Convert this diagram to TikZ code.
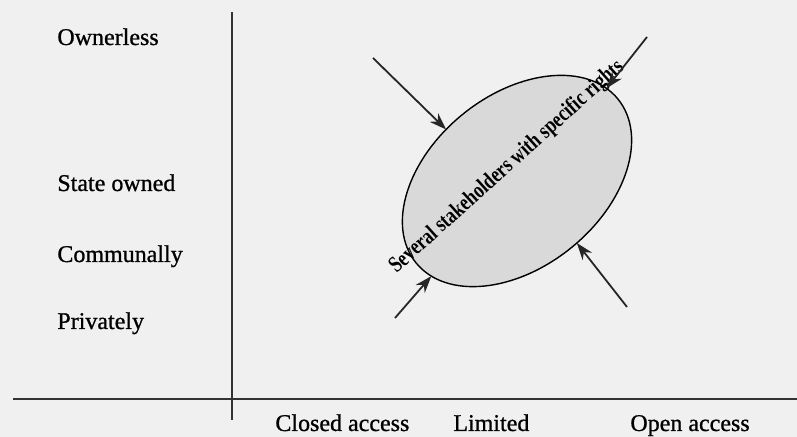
\documentclass[tikz,border=0pt]{standalone}
\usepackage{fontspec}
\setmainfont{Liberation Serif}
\newfontfamily\scanfont{Liberation Serif}[FakeBold=0.9]
\usetikzlibrary{shapes.geometric,arrows.meta,positioning}

\begin{document}
\begin{tikzpicture}
[x = 0.5pt, y = 0.5pt, >={Stealth[length=8.5pt,width=6pt]},
 axis/.style = {line width = 1pt, draw = black!80},
 lab/.style = {anchor = base west, inner sep = 0pt, font = \scanfont\fontsize{12}{14}\selectfont},
 arr/.style = {->, line width = 0.9pt, draw = black!85, fill = black!85}]
\fill[black!6] (0,0) rectangle (797,437);
\useasboundingbox (0,0) rectangle (797,437);
% axes
\coordinate (yt) at (232,425);
\coordinate (yb) at (232,17);
\coordinate (xl) at (13,38);
\coordinate (xr) at (797,38);
\draw[axis] (yb) -- (yt);
\draw[axis] (xl) -- (xr);
% ownership
\node (own) at (57,392)[lab] {Ownerless};
\node (state) at (57,246)[lab] {State owned};
\node (comm) at (57,175)[lab] {Communally};
\node (priv) at (57,108)[lab] {Privately};
% access
\node (closed) at (275,6)[lab] {Closed access};
\node (lim) at (453,6)[lab] {Limited};
\node (open) at (630,6)[lab] {Open access};
% stakeholders
\node (stk) at (517,256)[ellipse, draw, fill = black!15, line width = 0.7pt, rotate = 39,
  minimum width = 130pt, minimum height = 86pt, inner sep = 0pt, outer sep = 0pt] {};
\node (txt) at (507,270)[rotate = 42, xscale = 0.78, inner sep = 0pt,
  font = \bfseries\fontsize{11.5}{13}\selectfont] {Several stakeholders with specific rights};
\coordinate (a1) at (373,379);
\coordinate (a2) at (647,400);
\coordinate (a3) at (395,119);
\coordinate (a4) at (627,130);
\draw[arr] (a1) -- (stk.105);
\draw[arr] (a2) -- (stk.7);
\draw[arr] (a3) -- (stk.189);
\draw[arr] (a4) -- (stk.275);
\end{tikzpicture}
\end{document}
